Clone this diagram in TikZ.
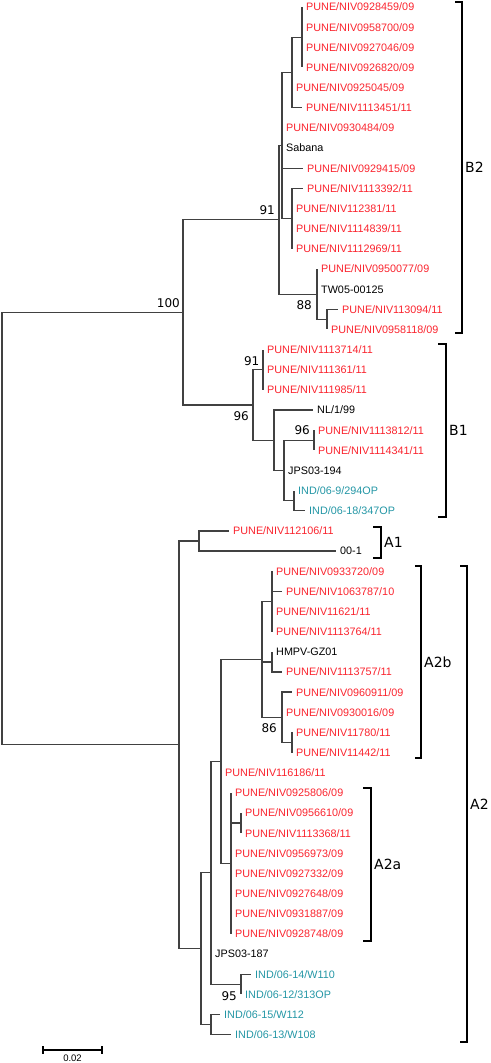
\documentclass[tikz,border=0pt]{standalone}
\usepackage{fontspec}
\setmainfont{Liberation Sans}
\newfontfamily\dvs{DejaVu Sans}
\usetikzlibrary{calc}
\definecolor{punered}{RGB}{250,35,45}
\definecolor{indteal}{RGB}{35,150,165}
\definecolor{treegray}{RGB}{65,65,65}
\tikzset{
  br/.style={draw=treegray,line width=1.25pt},
  lab/.style={anchor=west,inner sep=0pt,font=\fontsize{10.8}{12}\selectfont,text height=7.8pt,text depth=0pt},
  pune/.style={lab,text=punered},
  refs/.style={lab,text=black},
  ind/.style={lab,text=indteal},
  bs/.style={anchor=east,inner sep=0pt,font=\dvs\fontsize{12}{13}\selectfont,text height=8.8pt,text depth=0pt},
  brk/.style={draw=black,line width=1.8pt},
  clade/.style={anchor=west,inner sep=0pt,font=\dvs\fontsize{14}{15}\selectfont,text height=10.2pt,text depth=0pt},
  sbar/.style={draw=black,line width=1.2pt},
  sblab/.style={inner sep=0pt,font=\fontsize{9.5}{10}\selectfont},
}
\newcommand\tleaf[4]{%
  \coordinate (t#1) at (#2,{7+20.15*#1});
  \node[#3] (l#1) at ([xshift=4pt]t#1) {#4};}
\begin{document}
\begin{tikzpicture}[x=1pt,y=-1pt]
\useasboundingbox (0,0) rectangle (490,1063);
% ---- leaves
\tleaf{0}{302}{pune}{PUNE/NIV0928459/09}
\tleaf{1}{302}{pune}{PUNE/NIV0958700/09}
\tleaf{2}{302}{pune}{PUNE/NIV0927046/09}
\tleaf{3}{302}{pune}{PUNE/NIV0926820/09}
\tleaf{4}{292}{pune}{PUNE/NIV0925045/09}
\tleaf{5}{302}{pune}{PUNE/NIV1113451/11}
\tleaf{6}{282}{pune}{PUNE/NIV0930484/09}
\tleaf{7}{282}{refs}{Sabana}
\tleaf{8}{303}{pune}{PUNE/NIV0929415/09}
\tleaf{9}{303}{pune}{PUNE/NIV1113392/11}
\tleaf{10}{292}{pune}{PUNE/NIV112381/11}
\tleaf{11}{292}{pune}{PUNE/NIV1114839/11}
\tleaf{12}{292}{pune}{PUNE/NIV1112969/11}
\tleaf{13}{317}{pune}{PUNE/NIV0950077/09}
\tleaf{14}{317}{refs}{TW05-00125}
\tleaf{15}{338}{pune}{PUNE/NIV113094/11}
\tleaf{16}{327}{pune}{PUNE/NIV0958118/09}
\tleaf{17}{263}{pune}{PUNE/NIV1113714/11}
\tleaf{18}{263}{pune}{PUNE/NIV111361/11}
\tleaf{19}{263}{pune}{PUNE/NIV111985/11}
\tleaf{20}{313}{refs}{NL/1/99}
\tleaf{21}{314}{pune}{PUNE/NIV1113812/11}
\tleaf{22}{314}{pune}{PUNE/NIV1114341/11}
\tleaf{23}{284}{refs}{JPS03-194}
\tleaf{24}{294}{ind}{IND/06-9/294OP}
\tleaf{25}{305}{ind}{IND/06-18/347OP}
\tleaf{26}{229}{pune}{PUNE/NIV112106/11}
\tleaf{27}{336}{refs}{00-1}
\tleaf{28}{272}{pune}{PUNE/NIV0933720/09}
\tleaf{29}{282}{pune}{PUNE/NIV1063787/10}
\tleaf{30}{272}{pune}{PUNE/NIV11621/11}
\tleaf{31}{272}{pune}{PUNE/NIV1113764/11}
\tleaf{32}{272}{refs}{HMPV-GZ01}
\tleaf{33}{282}{pune}{PUNE/NIV1113757/11}
\tleaf{34}{292}{pune}{PUNE/NIV0960911/09}
\tleaf{35}{282}{pune}{PUNE/NIV0930016/09}
\tleaf{36}{292}{pune}{PUNE/NIV11780/11}
\tleaf{37}{292}{pune}{PUNE/NIV11442/11}
\tleaf{38}{221}{pune}{PUNE/NIV116186/11}
\tleaf{39}{231}{pune}{PUNE/NIV0925806/09}
\tleaf{40}{241}{pune}{PUNE/NIV0956610/09}
\tleaf{41}{241}{pune}{PUNE/NIV1113368/11}
\tleaf{42}{231}{pune}{PUNE/NIV0956973/09}
\tleaf{43}{231}{pune}{PUNE/NIV0927332/09}
\tleaf{44}{231}{pune}{PUNE/NIV0927648/09}
\tleaf{45}{231}{pune}{PUNE/NIV0931887/09}
\tleaf{46}{231}{pune}{PUNE/NIV0928748/09}
\tleaf{47}{211}{refs}{JPS03-187}
\tleaf{48}{251}{ind}{IND/06-14/W110}
\tleaf{49}{241}{ind}{IND/06-12/313OP}
\tleaf{50}{220}{ind}{IND/06-15/W112}
\tleaf{51}{231}{ind}{IND/06-13/W108}
% ---- internal nodes
\coordinate (E) at (302,37.225);
\coordinate (C) at (292,72.49);
\coordinate (D) at (292,218.575);
\coordinate (A) at (282,145.53);
\coordinate (F) at (327,319.325);
\coordinate (N88) at (317,294.14);
\coordinate (N91) at (279,219.835);
\coordinate (N91b) at (263,369.7);
\coordinate (N96b) at (314,440.225);
\coordinate (G) at (294,500.675);
\coordinate (H) at (284,470.45);
\coordinate (I) at (274,440.225);
\coordinate (N96) at (253,404.96);
\coordinate (B) at (183,312.4);
\coordinate (A1) at (199,540.975);
\coordinate (J) at (272,601.425);
\coordinate (K) at (272,661.875);
\coordinate (L) at (292,742.475);
\coordinate (N86) at (282,717.29);
\coordinate (A2b) at (262,659.36);
\coordinate (M) at (241,823.075);
\coordinate (A2a) at (231,863.375);
\coordinate (X) at (221,761.37);
\coordinate (N95) at (241,984.275);
\coordinate (Y) at (211,872.82);
\coordinate (Z) at (211,1024.575);
\coordinate (A2) at (201,948.7);
\coordinate (AR) at (179,744.84);
\coordinate (R) at (2,528.6);
% ---- branches
\foreach \p/\c in {E/t0,E/t1,E/t2,E/t3, C/E,C/t4,C/t5, A/C,A/t6,A/t7,A/t8,A/D,
  D/t9,D/t10,D/t11,D/t12, F/t15,F/t16, N88/t13,N88/t14,N88/F, N91/A,N91/N88,
  N91b/t17,N91b/t18,N91b/t19, N96b/t21,N96b/t22, G/t24,G/t25, H/N96b,H/t23,H/G,
  I/t20,I/H, N96/N91b,N96/I, B/N91,B/N96, A1/t26,A1/t27,
  J/t28,J/t29,J/t30,J/t31, K/t32,K/t33, L/t36,L/t37, N86/t34,N86/t35,N86/L,
  A2b/J,A2b/K,A2b/N86, M/t40,M/t41, A2a/t39,A2a/M,A2a/t42,A2a/t43,A2a/t44,A2a/t45,A2a/t46,
  X/A2b,X/t38,X/A2a, N95/t48,N95/t49, Y/X,Y/t47,Y/N95, Z/t50,Z/t51, A2/Y,A2/Z,
  AR/A1,AR/A2, R/B,R/AR}
  \draw[br] (\p) |- (\c);
% ---- bootstrap values
\node[bs] (bs100) at ([xshift=-3pt,yshift=9.4pt]B) {100};
\node[bs] (bs91a) at ([xshift=-4pt,yshift=10pt]N91) {91};
\node[bs] (bs88) at ([xshift=-5pt,yshift=-11pt]N88) {88};
\node[bs] (bs91b) at ([xshift=-3.5pt,yshift=9pt]N91b) {91};
\node[bs] (bs96a) at ([xshift=-4pt,yshift=-11pt]N96) {96};
\node[bs] (bs96b) at ([xshift=-4pt,yshift=10pt]N96b) {96};
\node[bs] (bs86) at ([xshift=-5pt,yshift=-11pt]N86) {86};
\node[bs] (bs95) at ([xshift=-4pt,yshift=-12pt]N95) {95};
% ---- clade brackets
\foreach \n/\xx/\ya/\yb/\tk/\txt in {B2/462/2/333/7/B2, B1/446/344/517/8/B1, Aone/381/527/558/8/A1,
   Atwob/421/566/758/6/A2b, Atwo/467/566/1042/7/A2, Atwoa/371/788/941/8/A2a}{
  \coordinate (\n t) at (\xx,\ya);
  \coordinate (\n b) at (\xx,\yb);
  \draw[brk] ([xshift=-\tk pt]\n t) -- (\n t) -- (\n b) -- ([xshift=-\tk pt]\n b);
  \node[clade] (\n lab) at ([xshift=3pt]$(\n t)!0.5!(\n b)$) {\txt};
}
% ---- scale bar
\coordinate (sb1) at (43,1050);
\coordinate (sb2) at (102,1050);
\draw[sbar] (sb1) -- (sb2);
\draw[sbar] ([yshift=4pt]sb1) -- ([yshift=-4pt]sb1);
\draw[sbar] ([yshift=4pt]sb2) -- ([yshift=-4pt]sb2);
\node[sblab] (sbl) at ($(sb1)!0.5!(sb2)+(0,8.5)$) {0.02};
\end{tikzpicture}
\end{document}
